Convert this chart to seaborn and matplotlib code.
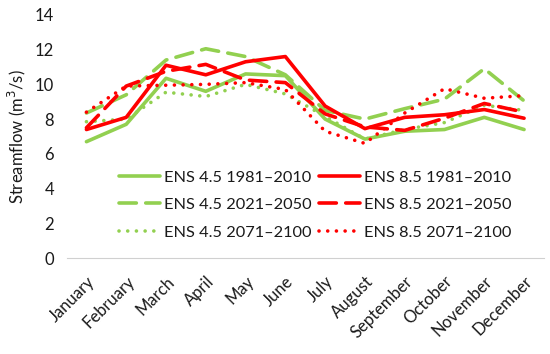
import matplotlib
matplotlib.use("Agg")
import matplotlib.pyplot as plt
import seaborn as sns
import numpy as np

# ---------------- Data ----------------
months = ["January", "February", "March", "April", "May", "June",
          "July", "August", "September", "October", "November", "December"]

ens45_1981_2010 = [6.7, 7.7, 10.35, 9.6, 10.6, 10.5, 8.0, 6.85, 7.3, 7.4, 8.1, 7.4]
ens45_2021_2050 = [8.35, 9.4, 11.4, 12.05, 11.6, 10.55, 8.5, 8.0, 8.6, 9.15, 10.9, 9.05]
ens45_2071_2100 = [7.85, 8.0, 9.55, 9.3, 10.0, 9.45, 8.15, 6.85, 7.4, 7.8, 8.8, 8.5]
ens85_1981_2010 = [7.4, 8.1, 11.1, 10.55, 11.3, 11.6, 8.75, 7.45, 8.1, 8.25, 8.55, 8.05]
ens85_2021_2050 = [7.5, 9.9, 10.75, 11.15, 10.25, 10.1, 8.3, 7.55, 7.35, 8.05, 8.9, 8.4]
ens85_2071_2100 = [8.4, 9.9, 9.95, 10.0, 10.1, 9.7, 7.3, 6.6, 8.35, 9.75, 9.2, 9.35]

series_labels = ["ENS 4.5 1981\u20132010", "ENS 4.5 2021\u20132050", "ENS 4.5 2071\u20132100",
                 "ENS 8.5 1981\u20132010", "ENS 8.5 2021\u20132050", "ENS 8.5 2071\u20132100"]

# ---------------- Style ----------------
sns.set_style("white")
plt.rcParams["font.family"] = ["Lato", "DejaVu Sans"]

GREEN = "#92D050"
RED = "#FF0000"
TEXT = "#1a1a1a"
LW = 2.6
solid = "-"
dashed = (0, (4.8, 2.6))
dotted = (0, (0.01, 2.4))

series = [
    (ens45_1981_2010, GREEN, solid),
    (ens45_2021_2050, GREEN, dashed),
    (ens45_2071_2100, GREEN, dotted),
    (ens85_1981_2010, RED, solid),
    (ens85_2021_2050, RED, dashed),
    (ens85_2071_2100, RED, dotted),
]

fig = plt.figure(figsize=(5.5, 3.54), dpi=100)
ax = fig.add_axes([0.121, 0.271, 0.868, 0.687])

x = np.arange(len(months))
for (vals, color, ls), label in zip(series, series_labels):
    sns.lineplot(x=x, y=vals, ax=ax, color=color, linewidth=LW,
                 linestyle=ls, dash_capstyle="round", label=label)

# ---------------- Axes ----------------
ax.set_xlim(-0.5, len(months) - 0.5)
ax.set_ylim(0, 14)
ax.set_yticks(range(0, 15, 2))
ax.set_xticks(x)
ax.set_xticklabels(months, rotation=45, ha="right", rotation_mode="anchor")
ax.set_xticks(np.arange(-0.5, len(months), 1), minor=True)
ax.tick_params(axis="x", which="major", length=0, pad=11, labelsize=12, colors=TEXT)
ax.tick_params(axis="x", which="minor", length=5, width=0.8, color="#D0D0D0", direction="in")
ax.tick_params(axis="y", length=0, labelsize=12, colors=TEXT, pad=9)
ax.set_ylabel("Streamflow (m$^3$/s)", fontsize=12, color=TEXT, labelpad=5)

for side in ["left", "right", "top"]:
    ax.spines[side].set_visible(False)
ax.spines["bottom"].set_color("#D0D0D0")
ax.spines["bottom"].set_linewidth(0.8)

ax.legend(ncol=2, loc="center", bbox_to_anchor=(0.573, 0.421),
          bbox_transform=fig.transFigure, frameon=False, fontsize=11.8,
          handlelength=2.5, handletextpad=0.25, columnspacing=0.45,
          labelspacing=0.8, labelcolor=TEXT)

fig.savefig("out.png", dpi=100)
